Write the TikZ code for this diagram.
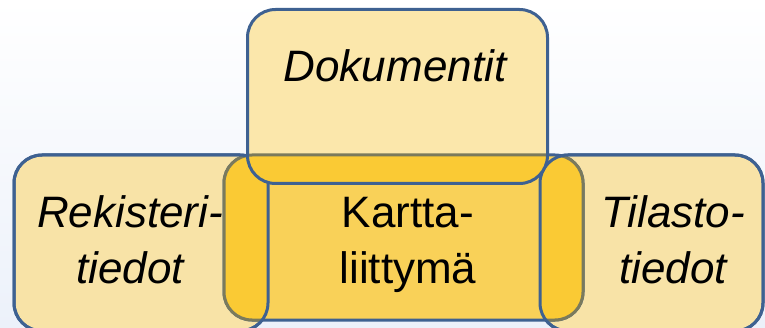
\documentclass[tikz,border=0pt]{standalone}
\usepackage{fontspec}
\setmainfont{Liberation Sans}
\definecolor{boxblue}{RGB}{62,97,145}
\definecolor{boxolive}{RGB}{122,122,92}
\definecolor{lightyellow}{RGB}{248,227,167}
\definecolor{docyellow}{RGB}{251,231,171}
\definecolor{midorange}{RGB}{249,209,88}
\definecolor{deeporange}{RGB}{250,202,52}
\definecolor{bgblue}{RGB}{236,241,250}
\tikzset{
  sidebox/.style={draw=boxblue,line width=2.25pt,rounded corners=21pt,fill=lightyellow},
  boxline/.style={draw=boxblue,line width=2.25pt,rounded corners=21pt},
  karttabox/.style={line width=2.25pt,rounded corners=21pt},
  label/.style={inner sep=0pt,align=center,font=\fontsize{33}{42}\selectfont}
}
\begin{document}
\begin{tikzpicture}[x=0.75pt,y=0.75pt,yscale=-1,xscale=1]
\useasboundingbox (0,0) rectangle (765,328);
%Background
\shade[top color=white,bottom color=bgblue] (0,0) rectangle (765,328);

%Rounded Rect: Rekisteritiedot
\draw[sidebox] (14,155) rectangle (268,331);
%Rounded Rect: Tilastotiedot
\draw[sidebox] (540,155) rectangle (763,331);

%Rounded Rect: Karttaliittymä
\draw[karttabox,draw=boxblue,fill=midorange] (224,155) rectangle (583,320);

%Overlap left
\begin{scope}
\clip[rounded corners=21pt] (14,155) rectangle (268,331);
\draw[karttabox,draw=boxolive,fill=deeporange] (224,155) rectangle (583,320);
\end{scope}
\draw[boxline] (14,155) rectangle (268,331);
%Overlap right
\begin{scope}
\clip[rounded corners=21pt] (540,155) rectangle (763,331);
\draw[karttabox,draw=boxolive,fill=deeporange] (224,155) rectangle (583,320);
\end{scope}
\draw[boxline] (540,155) rectangle (763,331);

%Rounded Rect: Dokumentit
\fill[docyellow,rounded corners=21pt] (247.5,9.5) rectangle (547.5,183.5);
\begin{scope}
\clip[rounded corners=21pt] (247.5,9.5) rectangle (547.5,183.5);
\draw[karttabox,draw=boxolive,fill=deeporange] (224,155) rectangle (583,320);
\end{scope}
\draw[boxline] (247.5,9.5) rectangle (547.5,183.5);

% Text Node
\node[label,anchor=base] (dok) at (395,82) {\itshape Dokumentit};
% Text Node
\node[label,anchor=base] (rek) at (130,283) {\itshape Rekisteri-\\\itshape tiedot};
% Text Node
\node[label,anchor=base] (kartta) at (408,283) {Kartta-\\liittymä};
% Text Node
\node[label,anchor=base] (til) at (673,283) {\itshape Tilasto-\\\itshape tiedot};
\end{tikzpicture}
\end{document}
